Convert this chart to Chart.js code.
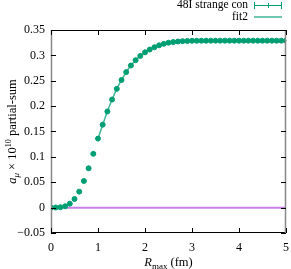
<!DOCTYPE html>
<html><head><meta charset="utf-8">
<script src="https://cdn.jsdelivr.net/npm/chart.js@4/dist/chart.umd.min.js"></script>
<style>html,body{margin:0;padding:0;background:#fff}canvas{display:block}</style>
</head><body>
<canvas id="c" width="291" height="269"></canvas>
<script>
const rmax = [0.0,0.1,0.2,0.3,0.4,0.5,0.6,0.7,0.8,0.9,1.0,1.1,1.2,1.3,1.4,1.5,1.6,1.7,1.8,1.9,2.0,2.1,2.2,2.3,2.4,2.5,2.6,2.7,2.8,2.9,3.0,3.1,3.2,3.3,3.4,3.5,3.6,3.7,3.8,3.9,4.0,4.1,4.2,4.3,4.4,4.5,4.6,4.7,4.8,4.9,5.0];
const partialSum = [0.0000,0.0002,0.0008,0.0027,0.0078,0.0170,0.0315,0.0525,0.0775,0.1060,0.1360,0.1635,0.1895,0.2130,0.2340,0.2515,0.2670,0.2800,0.2905,0.2990,0.3060,0.3115,0.3160,0.3198,0.3228,0.3250,0.3263,0.3273,0.3280,0.3284,0.3287,0.3288,0.3289,0.3289,0.3290,0.3290,0.3290,0.3290,0.3290,0.3290,0.3290,0.3290,0.3290,0.3290,0.3290,0.3290,0.3290,0.3290,0.3290,0.3290,0.3290];
const partialErr = [0.0000,0.0001,0.0002,0.0003,0.0004,0.0005,0.0006,0.0007,0.0008,0.0009,0.0010,0.0010,0.0010,0.0010,0.0010,0.0010,0.0010,0.0010,0.0010,0.0010,0.0010,0.0010,0.0010,0.0010,0.0010,0.0010,0.0010,0.0010,0.0010,0.0010,0.0010,0.0010,0.0010,0.0010,0.0010,0.0010,0.0010,0.0010,0.0010,0.0010,0.0010,0.0010,0.0010,0.0010,0.0010,0.0010,0.0010,0.0010,0.0010,0.0010,0.0010];
const fitX = [1.0,1.1,1.2,1.3,1.4,1.5,1.6,1.7,1.8,1.9,2.0,2.1,2.2,2.3,2.4,2.5,2.6,2.7,2.8,2.9,3.0,3.2,3.4,3.6,3.8,4.0,4.5,5.0];
const fitY = [0.1360,0.1635,0.1895,0.2130,0.2340,0.2515,0.2670,0.2800,0.2905,0.2990,0.3060,0.3115,0.3160,0.3198,0.3228,0.3250,0.3263,0.3273,0.3280,0.3284,0.3287,0.3289,0.3290,0.3290,0.3290,0.3290,0.3290,0.3290];
const zeroX = [0.3,5.0];
const zeroY = [0,0];
const xTicks = [0,1,2,3,4,5];
const yTicks = [-0.05,0,0.05,0.1,0.15,0.2,0.25,0.3,0.35];
const labels = ['48I strange con','fit2'];

const FONT = '"Liberation Serif","DejaVu Serif",serif';
const green = '#009e73';
const fitCol = 'rgba(0,158,115,0.75)';
const purple = 'rgba(148,0,211,0.5)';

function fmt(v){ return String(Math.round(v*100)/100).replace('-','\u2212'); }

const deco = {
  id:'deco',
  afterDatasetsDraw(chart){
    const ctx = chart.ctx, xs = chart.scales.x, ys = chart.scales.y, a = chart.chartArea;
    ctx.save();
    ctx.strokeStyle = green; ctx.lineWidth = 1;
    for(let i=0;i<rmax.length;i++){
      const px = xs.getPixelForValue(rmax[i]);
      const p1 = ys.getPixelForValue(partialSum[i]-partialErr[i]);
      const p2 = ys.getPixelForValue(partialSum[i]+partialErr[i]);
      ctx.beginPath(); ctx.moveTo(px,p1); ctx.lineTo(px,p2); ctx.stroke();
    }
    ctx.lineWidth = 1;
    ctx.strokeStyle = '#000';
    ctx.beginPath();
    ctx.moveTo(a.left, a.top+0.5); ctx.lineTo(a.right, a.top+0.5);
    ctx.moveTo(a.left, a.bottom-0.5); ctx.lineTo(a.right, a.bottom-0.5);
    ctx.stroke();
    ctx.strokeStyle = '#888'; ctx.lineWidth = 1.5;
    ctx.beginPath();
    ctx.moveTo(a.left+0.5, a.top); ctx.lineTo(a.left+0.5, a.bottom);
    ctx.moveTo(a.right-0.5, a.top); ctx.lineTo(a.right-0.5, a.bottom);
    ctx.stroke();
    ctx.strokeStyle = '#000'; ctx.lineWidth = 1;
    const L = 5;
    ctx.beginPath();
    xTicks.forEach(v=>{ const px = Math.round(xs.getPixelForValue(v))+0.5;
      ctx.moveTo(px,a.bottom); ctx.lineTo(px,a.bottom-L);
      ctx.moveTo(px,a.top); ctx.lineTo(px,a.top+L); });
    yTicks.forEach(v=>{ const py = Math.round(ys.getPixelForValue(v))+0.5;
      ctx.moveTo(a.left,py); ctx.lineTo(a.left+L,py);
      ctx.moveTo(a.right,py); ctx.lineTo(a.right-L,py); });
    ctx.stroke();
    // legend
    ctx.fillStyle = '#000'; ctx.font = '11.5px '+FONT; ctx.textAlign='right'; ctx.textBaseline='middle';
    const lx = 248, sx0 = 254, sx1 = 282;
    const ly = [5, 17];
    ctx.fillText(labels[0], lx, ly[0]);
    ctx.fillText(labels[1], lx, ly[1]);
    ctx.strokeStyle = green; ctx.lineWidth = 1;
    ctx.beginPath();
    ctx.moveTo(sx0, ly[0]+0.5); ctx.lineTo(sx1, ly[0]+0.5);
    ctx.moveTo(sx0+0.5, ly[0]-3); ctx.lineTo(sx0+0.5, ly[0]+4);
    ctx.moveTo(sx1-0.5, ly[0]-3); ctx.lineTo(sx1-0.5, ly[0]+4);
    const mid = Math.round((sx0+sx1)/2)+0.5;
    ctx.moveTo(mid, ly[0]-2); ctx.lineTo(mid, ly[0]+3);
    ctx.stroke();
    ctx.strokeStyle = fitCol; ctx.lineWidth = 1.5;
    ctx.beginPath(); ctx.moveTo(sx0, ly[1]); ctx.lineTo(sx1, ly[1]); ctx.stroke();
    // x title
    ctx.fillStyle='#000'; ctx.textBaseline='alphabetic'; ctx.textAlign='left';
    const cx = (a.left+a.right)/2, ty = 266;
    const parts = [['R','italic 12.5px '+FONT,0],['max','9px '+FONT,3],[' (fm)','12.5px '+FONT,0]];
    let tw = 0; parts.forEach(p=>{ctx.font=p[1]; tw+=ctx.measureText(p[0]).width;});
    let x = cx - tw/2;
    parts.forEach(p=>{ctx.font=p[1]; ctx.fillText(p[0], x, ty+p[2]); x+=ctx.measureText(p[0]).width;});
    // y title
    ctx.translate(16, (a.top+a.bottom)/2);
    ctx.rotate(-Math.PI/2);
    const yp = [['a','italic 12.5px '+FONT,0],['\u03bc','italic 9px '+FONT,3],[' \u00d7 10','12.5px '+FONT,0],['10','8px '+FONT,-5],[' partial-sum','12.5px '+FONT,0]];
    tw = 0; yp.forEach(p=>{ctx.font=p[1]; tw+=ctx.measureText(p[0]).width;});
    x = -tw/2;
    yp.forEach(p=>{ctx.font=p[1]; ctx.fillText(p[0], x, p[2]); x+=ctx.measureText(p[0]).width;});
    ctx.restore();
  }
};

new Chart(document.getElementById('c'), {
  type:'scatter',
  data:{ datasets:[
    { label:labels[0], data: rmax.map((x,i)=>({x, y:partialSum[i]})), showLine:false,
      pointStyle:'circle', pointRadius:2.5, backgroundColor:green, borderColor:green, borderWidth:1, order:1 },
    { label:labels[1], data: fitX.map((x,i)=>({x, y:fitY[i]})), showLine:true, pointRadius:0,
      borderColor:fitCol, borderWidth:1.5, cubicInterpolationMode:'monotone', order:2 },
    { label:'zero', data: zeroX.map((x,i)=>({x, y:zeroY[i]})), showLine:true, pointRadius:0,
      borderColor:purple, borderWidth:2, order:3 }
  ]},
  options:{
    responsive:false, animation:false, devicePixelRatio:1,
    layout:{ padding:{ top:30, right:3, left:0, bottom:0 } },
    plugins:{ legend:{display:false}, tooltip:{enabled:false} },
    scales:{
      x:{ type:'linear', min:0, max:5,
        afterBuildTicks(s){ s.ticks = xTicks.map(v=>({value:v})); },
        afterFit(s){ s.height = 36; s.paddingLeft = 0; s.paddingRight = 0; },
        grid:{ display:false, drawTicks:false }, border:{display:false},
        ticks:{ color:'#000', font:{family:FONT, size:12}, padding:8, maxRotation:0, callback:v=>fmt(v) } },
      y:{ type:'linear', min:-0.05, max:0.35,
        afterBuildTicks(s){ s.ticks = yTicks.map(v=>({value:v})); },
        afterFit(s){ s.width = 51; s.paddingTop = 0; s.paddingBottom = 0; },
        grid:{ display:false, drawTicks:false }, border:{display:false},
        ticks:{ color:'#000', font:{family:FONT, size:12}, padding:6, callback:v=>fmt(v) } }
    }
  },
  plugins:[deco]
});
</script>
</body></html>
